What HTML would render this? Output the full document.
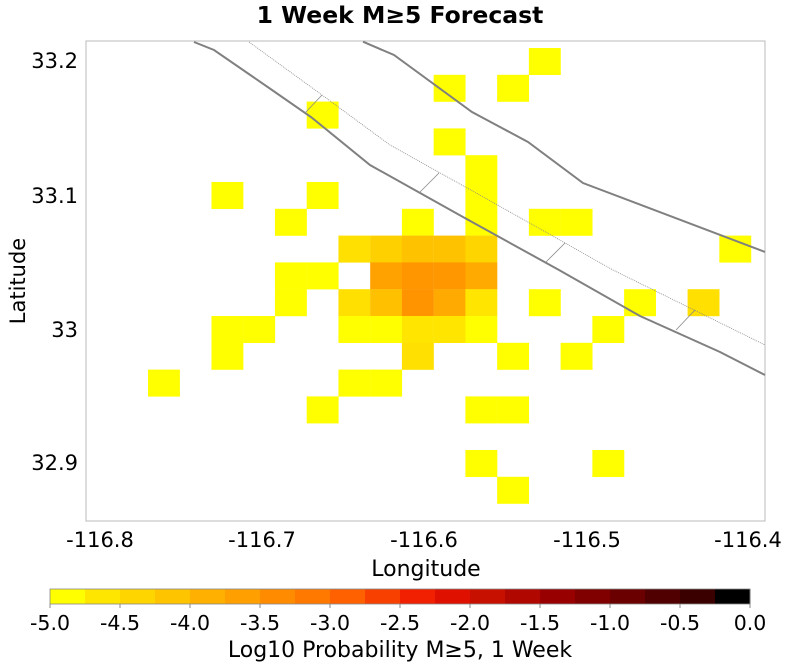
<!DOCTYPE html>
<html><head><meta charset="utf-8"><style>
html,body{margin:0;padding:0;background:#fff;}
svg{display:block;font-family:"DejaVu Sans","Liberation Sans",sans-serif;}
</style></head><body>
<svg width="800" height="670" viewBox="0 0 800 670" xmlns="http://www.w3.org/2000/svg">
<text x="400" y="23" text-anchor="middle" font-size="23.5" font-weight="bold">1 Week M≥5 Forecast</text>
<rect x="86" y="41" width="679" height="480" fill="#fff" stroke="#bbb" stroke-width="1"/>
<g id="cells"></g>
<g fill="none" stroke="#808080" stroke-width="2">
<polyline points="194,42 214,50 272,90 311,117 370,165 463,217 559,270 640,316 720,352 765,375"/>
<polyline points="363,41.7 394,55 472,112 528,142 583,183 765,252"/>
</g>
<g fill="none" stroke="#888" stroke-width="0.8">
<polyline points="249,42 322,95 390,145 494,203 613,270 690,308 765,345" stroke-dasharray="1,1"/>
<line x1="322" y1="95" x2="305" y2="113"/>
<line x1="439" y1="173" x2="420" y2="192"/>
<line x1="565" y1="243" x2="546" y2="262"/>
<line x1="695" y1="310" x2="676" y2="330"/>
</g>
<g font-size="21" text-anchor="middle">
<text x="100" y="547">-116.8</text>
<text x="262" y="547">-116.7</text>
<text x="424" y="547">-116.6</text>
<text x="587" y="547">-116.5</text>
<text x="748" y="547">-116.4</text>
</g>
<text x="426" y="576" text-anchor="middle" font-size="22">Longitude</text>
<g font-size="21" text-anchor="end">
<text x="78" y="68">33.2</text>
<text x="78" y="203">33.1</text>
<text x="78" y="337">33</text>
<text x="78" y="470">32.9</text>
</g>
<text transform="translate(25,281) rotate(-90)" text-anchor="middle" font-size="21">Latitude</text>
<g id="cbar"></g>
<rect x="50" y="589" width="700" height="15" fill="none" stroke="#888" stroke-width="0.8"/>
<g font-size="20.5" text-anchor="middle" id="cbl"></g>
<text x="400" y="657" text-anchor="middle" font-size="22">Log10 Probability M≥5, 1 Week</text>
<script>
var ns="http://www.w3.org/2000/svg";
var Y="#ffff00";
var cells=[[12,0,Y],[9,1,Y],[11,1,Y],[5,2,Y],[9,3,Y],[10,4,Y],[2,5,Y],[5,5,Y],[10,5,Y],
[4,6,Y],[8,6,Y],[10,6,Y],[12,6,Y],[13,6,Y],
[6,7,"#ffe000"],[7,7,"#ffd000"],[8,7,"#ffc200"],[9,7,"#ffc200"],[10,7,"#ffd500"],[18,7,Y],
[4,8,Y],[5,8,Y],[7,8,"#ffa200"],[8,8,"#ff9600"],[9,8,"#ff9800"],[10,8,"#ffaa00"],
[4,9,Y],[6,9,"#ffe000"],[7,9,"#ffc000"],[8,9,"#ff9300"],[9,9,"#ffaa00"],[10,9,"#ffe500"],[12,9,Y],[15,9,Y],[17,9,"#ffe000"],
[2,10,Y],[3,10,Y],[6,10,Y],[7,10,Y],[8,10,"#ffe500"],[9,10,"#ffe500"],[10,10,Y],[14,10,Y],
[2,11,Y],[8,11,"#ffe000"],[11,11,Y],[13,11,Y],
[0,12,Y],[6,12,Y],[7,12,Y],[5,13,Y],[10,13,Y],[11,13,Y],[10,15,Y],[14,15,Y],[11,16,Y]];
var g=document.getElementById("cells");
cells.forEach(function(c){var r=document.createElementNS(ns,"rect");
var x0=148+31.74*c[0],y0=48+26.8*c[1];
r.setAttribute("x",x0);r.setAttribute("y",y0);r.setAttribute("width",31.9);r.setAttribute("height",27);
r.setAttribute("fill",c[2]);g.appendChild(r);});
var cols=["#ffff00","#ffe600","#ffd500","#ffc400","#ffb000","#ffa000","#ff8c00","#ff7800","#ff6000","#f84000",
"#f02000","#e01000","#c81000","#b00800","#980000","#800000","#6a0000","#500000","#3a0000","#000000"];
var cb=document.getElementById("cbar");
cols.forEach(function(c,i){var r=document.createElementNS(ns,"rect");
r.setAttribute("x",50+35*i);r.setAttribute("y",589);r.setAttribute("width",35.5);r.setAttribute("height",15);
r.setAttribute("fill",c);cb.appendChild(r);});
var l=document.getElementById("cbl");
for(var i=0;i<=10;i++){var t=document.createElementNS(ns,"text");
t.setAttribute("x",50+70*i);t.setAttribute("y",630);t.textContent=(-5+0.5*i).toFixed(1);l.appendChild(t);
var k=document.createElementNS(ns,"line");k.setAttribute("x1",50+70*i);k.setAttribute("x2",50+70*i);
k.setAttribute("y1",604);k.setAttribute("y2",608);k.setAttribute("stroke","#888");l.appendChild(k);}
</script>
</svg>
</body></html>
